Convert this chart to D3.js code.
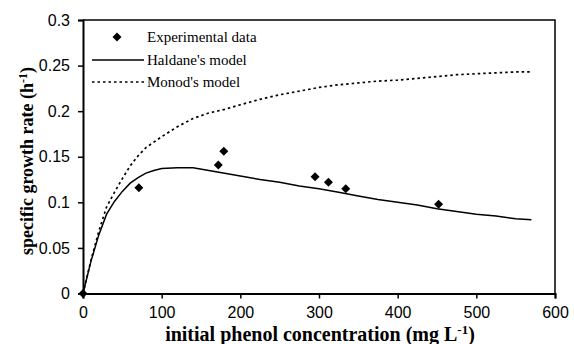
<!DOCTYPE html>
<html>
<head>
<meta charset="utf-8">
<script src="https://cdn.jsdelivr.net/npm/d3@7"></script>
<style>
    body { margin: 0; background: #fff; }
    .tick text { font-family: "Liberation Sans", Arial, sans-serif; font-size: 16px; fill: #000; }
    .legend text { font-family: "Liberation Serif", "Times New Roman", serif; font-size: 15px; }
    .axis-title { font-family: "Liberation Serif", "Times New Roman", serif; font-weight: bold; }
</style>
</head>
<body>
<div id="container"></div>
<script>
// experimental points
const expConc = [0, 71, 172, 179, 295, 312, 334, 452];
const expRate = [0, 0.116, 0.141, 0.156, 0.128, 0.122, 0.115, 0.098];

// model curves
const modelConc = [0, 10, 20, 30, 40, 50, 60, 70, 80, 90, 100, 120, 140, 160, 180, 200,
    225, 250, 275, 300, 325, 350, 375, 400, 425, 450, 475, 500, 525, 550, 570];
const haldaneRate = [0, 0.035, 0.064, 0.087, 0.101, 0.112, 0.121, 0.127, 0.132, 0.135, 0.137,
    0.138, 0.138, 0.135, 0.132, 0.129, 0.125, 0.122, 0.118, 0.115, 0.111, 0.107, 0.103, 0.100,
    0.097, 0.093, 0.090, 0.087, 0.085, 0.082, 0.081];
const monodRate = [0, 0.036, 0.068, 0.095, 0.111, 0.126, 0.140, 0.151, 0.160, 0.166, 0.172,
    0.183, 0.192, 0.198, 0.202, 0.207, 0.213, 0.218, 0.222, 0.226, 0.229, 0.231, 0.233, 0.234,
    0.236, 0.238, 0.240, 0.241, 0.242, 0.243, 0.243];

const xTicks = [0, 100, 200, 300, 400, 500, 600];
const yTicks = [0, 0.05, 0.1, 0.15, 0.2, 0.25, 0.3];

const legendLabels = ["Experimental data", "Haldane's model", "Monod's model"];

const width = 574, height = 344;
const margin = { top: 20, right: 19, bottom: 51, left: 83 };

const svg = d3.select("#container")
    .append("svg")
    .attr("width", width)
    .attr("height", height);

const x = d3.scaleLinear().domain([0, 600]).range([margin.left, width - margin.right]);
const y = d3.scaleLinear().domain([0, 0.3]).range([height - margin.bottom + 0.5, margin.top]);

// frame (top + right)
svg.append("path")
    .attr("d", `M${x(0)},${y(0.3)}H${x(600)}V${y(0)}`)
    .attr("fill", "none")
    .attr("stroke", "#000")
    .attr("stroke-width", 1.5);

const xAxis = svg.append("g")
    .attr("transform", `translate(0,${y(0)})`)
    .call(d3.axisBottom(x).tickValues(xTicks).tickSize(5).tickPadding(8).tickFormat(d3.format("d")));

const yAxis = svg.append("g")
    .attr("transform", `translate(${x(0)},0)`)
    .call(d3.axisLeft(y).tickValues(yTicks).tickSize(5).tickPadding(8).tickFormat(d => d === 0 ? "0" : String(+d.toFixed(2))));

[xAxis, yAxis].forEach(g => {
    g.select(".domain").attr("stroke", "#000").attr("stroke-width", 2);
    g.selectAll(".tick line").attr("stroke", "#000").attr("stroke-width", 1.5);
});

const line = d3.line()
    .x(d => x(d[0]))
    .y(d => y(d[1]));

svg.append("path")
    .datum(d3.zip(modelConc, monodRate))
    .attr("d", line)
    .attr("fill", "none")
    .attr("stroke", "#000")
    .attr("stroke-width", 1.7)
    .attr("stroke-dasharray", "2.5,3");

svg.append("path")
    .datum(d3.zip(modelConc, haldaneRate))
    .attr("d", line)
    .attr("fill", "none")
    .attr("stroke", "#000")
    .attr("stroke-width", 1.5);

const diamond = d3.symbol().type(d3.symbolSquare).size(40);

svg.append("g")
    .selectAll("path")
    .data(d3.zip(expConc, expRate))
    .join("path")
    .attr("d", diamond)
    .attr("transform", d => `translate(${x(d[0])},${y(d[1])}) rotate(45)`)
    .attr("fill", "#000");

// legend
const legend = svg.append("g").attr("class", "legend");
const legY = [37, 60, 82];
legend.append("path")
    .attr("d", diamond)
    .attr("transform", `translate(117,${legY[0]}) rotate(45)`)
    .attr("fill", "#000");
legend.append("line")
    .attr("x1", 92).attr("x2", 144)
    .attr("y1", legY[1]).attr("y2", legY[1])
    .attr("stroke", "#000").attr("stroke-width", 1.5);
legend.append("line")
    .attr("x1", 92).attr("x2", 144)
    .attr("y1", legY[2]).attr("y2", legY[2])
    .attr("stroke", "#000").attr("stroke-width", 1.7)
    .attr("stroke-dasharray", "2.5,3");
legend.selectAll("text")
    .data(legendLabels)
    .join("text")
    .attr("x", 147)
    .attr("y", (d, i) => legY[i] + 5)
    .text(d => d);

// axis titles
const xt = svg.append("text")
    .attr("class", "axis-title")
    .attr("font-size", 20)
    .attr("x", 320)
    .attr("y", 341)
    .attr("text-anchor", "middle");
xt.append("tspan").text("initial phenol concentration (mg L");
xt.append("tspan").attr("dy", -7).attr("font-size", 13).text("-1");
xt.append("tspan").attr("dy", 7).text(")");

const yt = svg.append("text")
    .attr("class", "axis-title")
    .attr("font-size", 18)
    .attr("transform", `translate(33,161) rotate(-90)`)
    .attr("text-anchor", "middle");
yt.append("tspan").text("specific growth rate (h");
yt.append("tspan").attr("dy", -6).attr("font-size", 12).text("-1");
yt.append("tspan").attr("dy", 6).text(")");
</script>
</body>
</html>
